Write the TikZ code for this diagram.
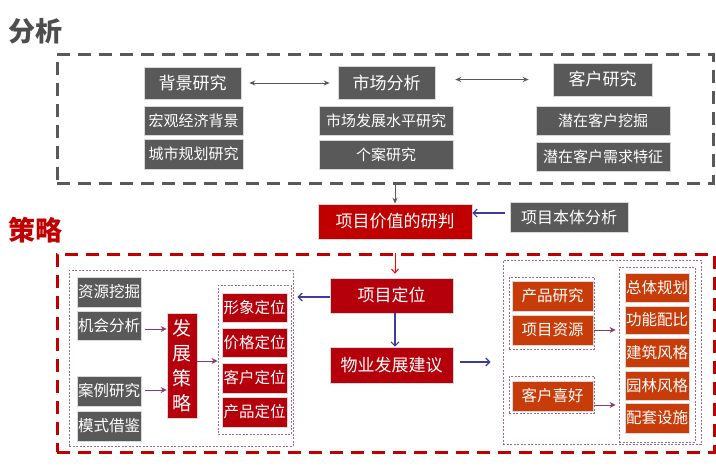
\documentclass[tikz,border=0pt]{standalone}
\usepackage{fontspec}
\setmainfont{Noto Sans CJK SC}
\usetikzlibrary{arrows.meta}
\definecolor{gboxc}{HTML}{595959}
\definecolor{redc}{HTML}{C00000}
\definecolor{dredc}{HTML}{B5000C}
\definecolor{orc}{HTML}{C83C0A}
\definecolor{bluec}{HTML}{3C3CA0}
\definecolor{purc}{HTML}{8B3A6B}
\definecolor{dotc}{HTML}{9B6B8F}
\definecolor{titg}{HTML}{4D4D4D}
\tikzset{
  bx/.style={inner sep=0pt, text=white, draw=white!85!black, line width=0.6pt},
  gbox/.style={bx, fill=gboxc},
  rbox/.style={bx, fill=dredc},
  obox/.style={bx, fill=orc},
  fs/.style={font=\fontsize{#1}{#1}\selectfont},
  titlefont/.style={font=\fontsize{27}{27}\selectfont\bfseries},
  gdash/.style={draw=gboxc, line width=3pt, dash pattern=on 13pt off 8pt, inner sep=0pt},
  rdash/.style={draw=redc, line width=3pt, dash pattern=on 13pt off 8pt, inner sep=0pt},
  dotbox/.style={draw=dotc, line width=0.9pt, dash pattern=on 2pt off 1.5pt, inner sep=0pt},
  garrow/.style={draw=gboxc, line width=1pt, -{Stealth[length=6pt,width=5pt]}},
  gdarrow/.style={draw=gboxc, line width=1pt, {Stealth[length=6pt,width=5pt]}-{Stealth[length=6pt,width=5pt]}},
  barrow/.style={draw=bluec, line width=1.2pt, -{Straight Barb[length=4pt,width=8pt]}},
  rarrow/.style={draw=red, line width=1pt, -{Straight Barb[length=4pt,width=7pt]}},
  parrow/.style={draw=purc, line width=1pt, -{Stealth[length=6pt,width=6pt]}},
}
\begin{document}
\begin{tikzpicture}[x=1pt,y=-1pt]
\useasboundingbox (0,0) rectangle (716,466);
% titles
\node[titlefont, text=titg] (t1) at (36,31) {分析};
\node[titlefont, text=redc] (t2) at (36,230) {策略};
% top dashed box
\node[gdash, minimum width=656pt, minimum height=129pt] (top) at (385,118.5) {};
\node[gbox, fs=17, minimum width=97pt, minimum height=32pt] (bj) at (192.5,83) {背景研究};
\node[gbox, fs=15, minimum width=99pt, minimum height=29pt] (hg) at (193.5,120.5) {宏观经济背景};
\node[gbox, fs=15, minimum width=99pt, minimum height=30pt] (cs) at (193.5,154) {城市规划研究};
\node[gbox, fs=17, minimum width=97pt, minimum height=33pt] (sc) at (386.5,82.5) {市场分析};
\node[gbox, fs=15, minimum width=134pt, minimum height=29pt] (sf) at (386,120.5) {市场发展水平研究};
\node[gbox, fs=15, minimum width=134pt, minimum height=29pt] (ga) at (386,154.5) {个案研究};
\node[gbox, fs=17, minimum width=99pt, minimum height=33pt] (kh) at (602.5,79.5) {客户研究};
\node[gbox, fs=15, minimum width=134pt, minimum height=29pt] (qz) at (603,120.5) {潜在客户挖掘};
\node[gbox, fs=15, minimum width=134pt, minimum height=29pt] (qx) at (603,156.5) {潜在客户需求特征};
\draw[gdarrow, shorten <=8pt, shorten >=8pt] (bj.east) -- (bj.east -| sc.west);
\draw[gdarrow, shorten <=20pt, shorten >=24pt] (sc.east |- kh.west) -- (kh.west);
% middle
\node[bx, fill=redc, fs=17, minimum width=154pt, minimum height=35pt] (jz) at (395,221.5) {项目价值的研判};
\node[gbox, fs=16, minimum width=118pt, minimum height=30pt] (bt) at (569,217) {项目本体分析};
\draw[garrow] (top.south -| jz.north) -- (jz.north);
\draw[barrow, shorten <=5pt] (bt.west |- 0,213) -- (jz.east |- 0,213);
% red dashed box
\node[rdash, minimum width=657pt, minimum height=198pt] (rd) at (385.5,353) {};
\node[rbox, fs=17, minimum width=123pt, minimum height=35pt] (dw) at (391.5,295.5) {项目定位};
\node[rbox, fs=17, minimum width=123pt, minimum height=36pt] (wy) at (391.5,365) {物业发展建议};
\draw[rarrow, shorten >=4pt] (jz.south |- rd.north) -- (jz.south |- dw.north);
\draw[barrow] (dw.south -| jz.south) -- (wy.north -| jz.south);
% left group
\node[dotbox, minimum width=224pt, minimum height=176pt] (ld) at (181,358) {};
\node[gbox, fs=15.5, minimum width=64pt, minimum height=30pt] (zy) at (109,292) {资源挖掘};
\node[gbox, fs=15.5, minimum width=64pt, minimum height=29pt] (jh) at (109,325.5) {机会分析};
\node[gbox, fs=15.5, minimum width=64pt, minimum height=30pt] (al) at (109,391) {案例研究};
\node[gbox, fs=15.5, minimum width=64pt, minimum height=30pt] (ms) at (109,426) {模式借鉴};
\node[rbox, minimum width=30pt, minimum height=105pt, align=center, font=\fontsize{19}{25}\selectfont] (fz) at (182,365.5) {发\\展\\策\\略};
\node[dotbox, minimum width=73pt, minimum height=149pt] (id) at (254.5,359.5) {};
\node[rbox, fs=15.5, minimum width=65pt, minimum height=29pt] (xx) at (254.5,307.5) {形象定位};
\node[rbox, fs=15.5, minimum width=65pt, minimum height=29pt] (jg) at (254.5,342.5) {价格定位};
\node[rbox, fs=15.5, minimum width=65pt, minimum height=30pt] (kd) at (254.5,378) {客户定位};
\node[rbox, fs=15.5, minimum width=65pt, minimum height=30pt] (cd) at (254.5,412) {产品定位};
\draw[parrow, shorten <=4pt] (jh.east |- 0,329) -- (fz.west |- 0,329);
\draw[parrow, shorten <=4pt] (al.east |- 0,390) -- (fz.west |- 0,390);
\draw[parrow] (fz.east |- 0,361) -- (id.west |- 0,361);
\draw[barrow, shorten >=4pt] (dw.west |- 0,297) -- (ld.east |- 0,297);
% right group
\node[dotbox, minimum width=198pt, minimum height=184pt] (ro) at (602,352) {};
\node[dotbox, minimum width=85pt, minimum height=72pt] (ra) at (551.5,313) {};
\node[obox, fs=15.5, minimum width=81pt, minimum height=30pt] (cp) at (552.5,296) {产品研究};
\node[obox, fs=15.5, minimum width=81pt, minimum height=30pt] (zyy) at (552.5,330) {项目资源};
\node[dotbox, minimum width=85pt, minimum height=37pt] (rb) at (551.5,394.5) {};
\node[obox, fs=15.5, minimum width=81pt, minimum height=30pt] (kx) at (552.5,396) {客户喜好};
\node[dotbox, minimum width=76pt, minimum height=175pt] (rc) at (657,354.5) {};
\node[obox, fs=15.5, minimum width=64pt, minimum height=29pt] (zt) at (657,287.5) {总体规划};
\node[obox, fs=15.5, minimum width=64pt, minimum height=28pt] (gn) at (657,320) {功能配比};
\node[obox, fs=15.5, minimum width=64pt, minimum height=29pt] (jzf) at (657,352.5) {建筑风格};
\node[obox, fs=15.5, minimum width=64pt, minimum height=29pt] (yl) at (657,385.5) {园林风格};
\node[obox, fs=15.5, minimum width=64pt, minimum height=30pt] (pt) at (657,418) {配套设施};
\draw[parrow, shorten >=3pt] (ra.east |- zyy) -- (rc.west |- zyy);
\draw[parrow, shorten >=3pt] (rb.east |- 0,405) -- (rc.west |- 0,405);
\draw[barrow, shorten <=7pt, shorten >=12pt] (wy.east |- 0,362) -- (ro.west |- 0,362);
\end{tikzpicture}
\end{document}
